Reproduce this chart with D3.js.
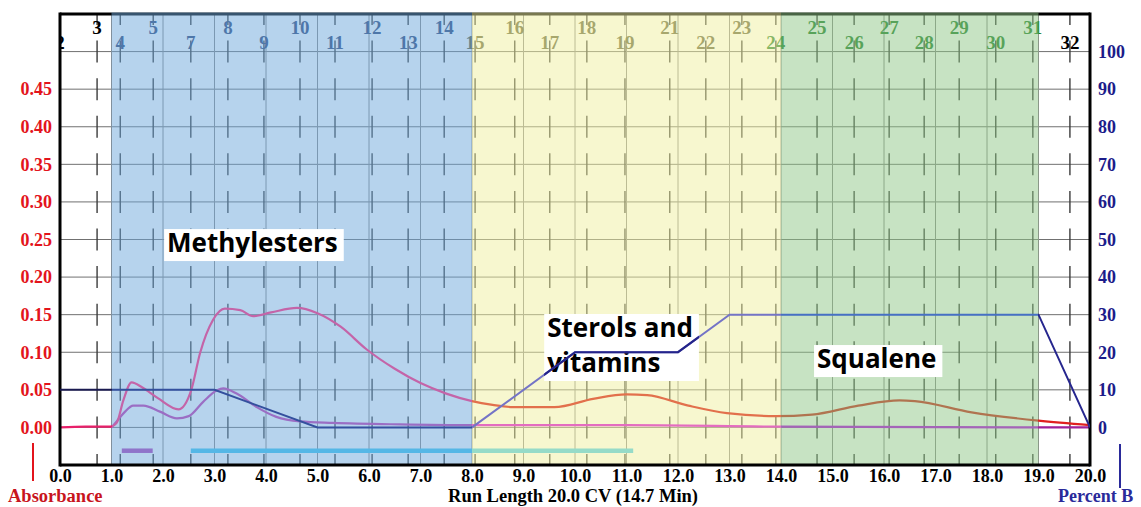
<!DOCTYPE html>
<html>
<head>
<meta charset="utf-8">
<script src="https://cdn.jsdelivr.net/npm/d3@7"></script>
<style>
    body { margin: 0; background: #fff; }
    svg { display: block; }
</style>
</head>
<body>
<div id="chart"></div>
<script>
// flash run data (x in CV)

// fraction numbers printed along the top, and where their markers sit
var fracNums = [2, 3, 4, 5, 7, 8, 9, 10, 11, 12, 13, 14, 15, 16, 17, 18, 19, 21, 22, 23, 24, 25, 26, 27, 28, 29, 30, 31, 32];
var fracCV = [0.0, 0.72, 1.17, 1.81, 2.54, 3.26, 3.96, 4.66, 5.34, 6.06, 6.76, 7.46, 8.06, 8.83, 9.51, 10.23, 10.97,
    11.84, 12.54, 13.24, 13.9, 14.7, 15.42, 16.1, 16.78, 17.46, 18.17, 18.89, 19.61];

// upper absorbance trace
var traceCV = [0.0, 0.5, 0.98, 1.1, 1.23, 1.39, 1.6, 1.9, 2.3, 2.55, 2.72, 2.97, 3.2, 3.5, 3.75, 4.1, 4.6, 5.0, 5.45,
    5.95, 6.5, 7.0, 7.5, 8.0, 8.4, 8.8, 9.6, 10.35, 11.0, 11.4, 12.2, 12.95, 13.9, 14.6, 15.5, 16.3, 16.6, 17.7, 19.0, 20.0];
var traceAbs = [0.000, 0.001, 0.001, 0.006, 0.036, 0.060, 0.053, 0.039, 0.024, 0.050, 0.099, 0.143, 0.158, 0.156, 0.148,
    0.153, 0.159, 0.152, 0.134, 0.104, 0.078, 0.059, 0.045, 0.035, 0.030, 0.027, 0.027, 0.038, 0.044, 0.043, 0.029,
    0.019, 0.015, 0.017, 0.029, 0.036, 0.035, 0.020, 0.009, 0.003];

// lower absorbance trace
var trace2CV = [1.0, 1.1, 1.25, 1.42, 1.62, 1.94, 2.27, 2.5, 2.78, 3.04, 3.17, 3.43, 3.82, 4.2, 4.66, 5.3, 6.6, 8.0,
    11.0, 14.0, 19.0, 20.0];
var trace2Abs = [0.000, 0.008, 0.020, 0.029, 0.029, 0.021, 0.012, 0.015, 0.034, 0.049, 0.052, 0.045, 0.027, 0.014,
    0.008, 0.006, 0.004, 0.003, 0.003, 0.001, 0.000, 0.000];

// solvent gradient (percent B)
var gradCV = [0, 3, 5, 8, 10, 12, 13, 19, 20];
var gradB = [10, 10, 0, 0, 20, 20, 30, 30, 0];

// collected fraction bars
var barStart = [1.2, 2.54];
var barEnd = [1.8, 11.13];
var barLevel = -0.031;

// shaded regions
var regionNames = ["Methylesters", "Sterols and vitamins", "Squalene"];
var regionStart = [1, 8, 14];
var regionEnd = [8, 14, 19];

// ticks
var xTicks = [0, 1, 2, 3, 4, 5, 6, 7, 8, 9, 10, 11, 12, 13, 14, 15, 16, 17, 18, 19, 20];
var absTicks = [0, 0.05, 0.10, 0.15, 0.20, 0.25, 0.30, 0.35, 0.40, 0.45];
var absGrid = [0, 0.05, 0.10, 0.15, 0.20, 0.25, 0.30, 0.35, 0.40, 0.45, 0.50];
var pctTicks = [0, 10, 20, 30, 40, 50, 60, 70, 80, 90, 100];


function chart() {

    var w = 1141, h = 507;
    var serif = "'Liberation Serif', 'Times New Roman', serif";
    var sans = "'Open Sans', sans-serif";

    var x = d3.scaleLinear().domain([0, 20]).range([60, 1090]);
    var y = d3.scaleLinear().domain([-0.05, 0.55]).range([465, 14]);
    var yB = d3.scaleLinear().domain([-10, 110]).range([465, 14]);

    var regionFill = ["#6ea8dc", "#f0f0a0", "#90c888"];

    var svg = d3.select("#chart").append("svg").attr("width", w).attr("height", h);
    var defs = svg.append("defs");

    defs.append("clipPath").attr("id", "plotClip")
        .append("rect")
        .attr("x", x(0)).attr("y", y(0.55))
        .attr("width", x(20) - x(0)).attr("height", y(-0.05) - y(0.55));

    // stroke colours change with the shaded band a line passes through
    var bands = [0, 1, 8, 14, 19, 20];
    function bandStroke(id, colors) {
        var g = defs.append("linearGradient").attr("id", id)
            .attr("gradientUnits", "userSpaceOnUse")
            .attr("x1", x(0)).attr("x2", x(20)).attr("y1", 0).attr("y2", 0);
        colors.forEach(function (c, i) {
            g.append("stop").attr("offset", bands[i] / 20).attr("stop-color", c);
            g.append("stop").attr("offset", bands[i + 1] / 20).attr("stop-color", c);
        });
        return "url(#" + id + ")";
    }

    var plot = svg.append("g").attr("clip-path", "url(#plotClip)");

    // horizontal grid
    plot.selectAll(".hgrid").data(absGrid).enter()
        .append("line")
        .attr("x1", x(0)).attr("x2", x(20))
        .attr("y1", function (d) { return y(d); })
        .attr("y2", function (d) { return y(d); })
        .attr("stroke", "#707070").attr("stroke-width", 1);

    // vertical grid on whole CV
    plot.selectAll(".vgrid").data(xTicks.slice(1, 20)).enter()
        .append("line")
        .attr("x1", function (d) { return x(d); })
        .attr("x2", function (d) { return x(d); })
        .attr("y1", y(0.55)).attr("y2", y(-0.05))
        .attr("stroke", "#888").attr("stroke-width", 1);

    // fraction markers: short dashes centred on each grid level
    var dashLevels = d3.range(-1, 12).map(function (k) { return k * 0.05; });
    fracCV.forEach(function (f) {
        plot.selectAll(null).data(dashLevels).enter()
            .append("line")
            .attr("x1", x(f)).attr("x2", x(f))
            .attr("y1", function (d) { return y(d) - 11; })
            .attr("y2", function (d) { return y(d) + 11; })
            .attr("stroke", "#3a3a3a").attr("stroke-width", 1.4);
    });

    // top frame (sits under the shading)
    svg.append("line")
        .attr("x1", x(0)).attr("x2", x(20))
        .attr("y1", y(0.55)).attr("y2", y(0.55))
        .attr("stroke", "#000").attr("stroke-width", 3);

    // fraction collection bars
    var barColor = ["#b040b8", "#3cc6f0"];
    plot.selectAll(".bar").data(barStart).enter()
        .append("line")
        .attr("x1", function (d) { return x(d); })
        .attr("x2", function (d, i) { return x(barEnd[i]); })
        .attr("y1", y(barLevel)).attr("y2", y(barLevel))
        .attr("stroke", function (d, i) { return barColor[i]; })
        .attr("stroke-width", 4.5);

    // region shading
    svg.selectAll(".region").data(regionStart).enter()
        .append("rect")
        .attr("x", function (d) { return x(d); })
        .attr("y", y(0.55) - 1.5)
        .attr("width", function (d, i) { return x(regionEnd[i]) - x(d); })
        .attr("height", y(-0.05) - y(0.55) + 1.5)
        .attr("fill", function (d, i) { return regionFill[i]; })
        .attr("opacity", 0.5);

    // absorbance traces
    var absLine = d3.line()
        .x(function (d) { return x(d[0]); })
        .y(function (d) { return y(d[1]); })
        .curve(d3.curveMonotoneX);

    var upper = d3.zip(traceCV, traceAbs);
    var lower = d3.zip(trace2CV, trace2Abs);

    var traces = svg.append("g").attr("clip-path", "url(#plotClip)");

    traces.append("path").datum(lower)
        .attr("d", absLine)
        .attr("fill", "none")
        .attr("stroke", bandStroke("lowStroke", ["#c03cb4", "#9b6ec4", "#e46cc0", "#a464b8", "#a0209a"]))
        .attr("stroke-width", 2.2);

    traces.append("path").datum(upper)
        .attr("d", absLine)
        .attr("fill", "none")
        .attr("stroke", bandStroke("upStroke", ["#e8206a", "#c464a8", "#e2704c", "#b07450", "#e02020"]))
        .attr("stroke-width", 2.2);

    // frame
    svg.append("line").attr("x1", x(0)).attr("x2", x(0))
        .attr("y1", y(0.55) - 1.5).attr("y2", y(-0.05) + 1.5)
        .attr("stroke", "#000").attr("stroke-width", 3);
    svg.append("line").attr("x1", x(20)).attr("x2", x(20))
        .attr("y1", y(0.55) - 1.5).attr("y2", y(-0.05) + 1.5)
        .attr("stroke", "#000").attr("stroke-width", 3);
    svg.append("line").attr("x1", x(0)).attr("x2", x(20))
        .attr("y1", y(-0.05)).attr("y2", y(-0.05))
        .attr("stroke", "#000").attr("stroke-width", 3);

    // fraction numbers, staggered
    function fracColor(f) {
        if (f >= 1 && f < 8) return "#2f4677";
        if (f >= 8 && f < 13.85) return "#5e5e3a";
        if (f >= 13.85 && f < 19) return "#1f7f2c";
        return "#000";
    }
    plot.selectAll(".frac").data(fracNums).enter()
        .append("text")
        .attr("x", function (d, i) { return x(fracCV[i]); })
        .attr("y", function (d, i) { return y(0.55) + (i % 2 === 0 ? 35 : 20); })
        .attr("text-anchor", "middle")
        .attr("font-family", serif).attr("font-weight", "bold").attr("font-size", "19px")
        .attr("fill", function (d, i) { return fracColor(fracCV[i]); })
        .text(function (d) { return d; });

    // region captions in white boxes
    var captions = [
        { lines: ["Methylesters"], cx: 2.08, cy: 0.2333 },
        { lines: ["Sterols and", "vitamins"], cx: 9.46, cy: 0.1203 },
        { lines: ["Squalene"], cx: 14.70, cy: 0.079 }
    ];
    var boxes = [];
    captions.forEach(function (c) {
        var g = svg.append("g");
        var box = g.append("rect").attr("fill", "#fff");
        var t = g.append("text")
            .attr("x", x(c.cx)).attr("y", y(c.cy))
            .attr("font-family", sans).attr("font-weight", "bold").attr("font-size", "26px")
            .attr("fill", "#000");
        c.lines.forEach(function (s, j) {
            t.append("tspan").attr("x", x(c.cx)).attr("dy", j === 0 ? 0 : 35).text(s);
        });
        var bb = t.node().getBBox();
        var top = y(c.cy) - 23;
        var bottom = y(c.cy) + 35 * (c.lines.length - 1) + 9;
        var b = { x: bb.x - 3, y: top, w: bb.width + 9, h: bottom - top };
        box.attr("x", b.x).attr("y", b.y).attr("width", b.w).attr("height", b.h);
        boxes.push(b);
    });

    // gradient line, drawn over the shading
    var gradLine = d3.line()
        .x(function (d) { return x(d[0]); })
        .y(function (d) { return yB(d[1]); });
    var grad = d3.zip(gradCV, gradB);

    svg.append("path").datum(grad)
        .attr("clip-path", "url(#plotClip)")
        .attr("d", gradLine)
        .attr("fill", "none")
        .attr("stroke", bandStroke("gradStroke", ["#1a1a50", "#34509e", "#7474c6", "#4670c4", "#26268e"]))
        .attr("stroke-width", 2);

    // ...but it still shows on top of the sterols box
    var sb = boxes[1];
    defs.append("clipPath").attr("id", "boxClip")
        .append("rect").attr("x", sb.x).attr("y", sb.y).attr("width", sb.w).attr("height", sb.h);
    svg.append("path").datum(grad)
        .attr("clip-path", "url(#boxClip)")
        .attr("d", gradLine)
        .attr("fill", "none").attr("stroke", "#24248a").attr("stroke-width", 2.2);

    // axes
    var left = svg.append("g").attr("transform", "translate(" + x(0) + ",0)")
        .call(d3.axisLeft(y).tickValues(absTicks).tickSize(0).tickPadding(8).tickFormat(d3.format(".2f")));
    var right = svg.append("g").attr("transform", "translate(" + x(20) + ",0)")
        .call(d3.axisRight(yB).tickValues(pctTicks).tickSize(0).tickPadding(8));
    var bottom = svg.append("g").attr("transform", "translate(0," + y(-0.05) + ")")
        .call(d3.axisBottom(x).tickValues(xTicks).tickSize(0).tickPadding(4).tickFormat(d3.format(".1f")));

    [left, right, bottom].forEach(function (a) {
        a.select(".domain").remove();
        a.selectAll("text")
            .attr("font-family", serif).attr("font-weight", "bold").attr("font-size", "18px");
    });
    left.selectAll("text").attr("fill", "#e3141c");
    right.selectAll("text").attr("fill", "#1c1c8a");
    bottom.selectAll("text").attr("fill", "#000");

    // axis titles
    svg.append("line").attr("x1", 33).attr("x2", 33).attr("y1", 443).attr("y2", 481)
        .attr("stroke", "#e3141c").attr("stroke-width", 2);
    svg.append("text").attr("x", 8).attr("y", 502)
        .attr("font-family", serif).attr("font-weight", "bold").attr("font-size", "18.5px")
        .attr("fill", "#c8141c").text("Absorbance");

    svg.append("text").attr("x", 573).attr("y", 502).attr("text-anchor", "middle")
        .attr("font-family", serif).attr("font-weight", "bold").attr("font-size", "18.5px")
        .attr("fill", "#000").text("Run Length 20.0 CV (14.7 Min)");

    svg.append("line").attr("x1", 1120).attr("x2", 1120).attr("y1", 444).attr("y2", 488)
        .attr("stroke", "#2a2a9a").attr("stroke-width", 2);
    svg.append("text").attr("x", 1058).attr("y", 502)
        .attr("font-family", serif).attr("font-weight", "bold").attr("font-size", "18px")
        .attr("fill", "#2a2a9a").text("Percent B");
}

window.onload = chart;
</script>
</body>
</html>
